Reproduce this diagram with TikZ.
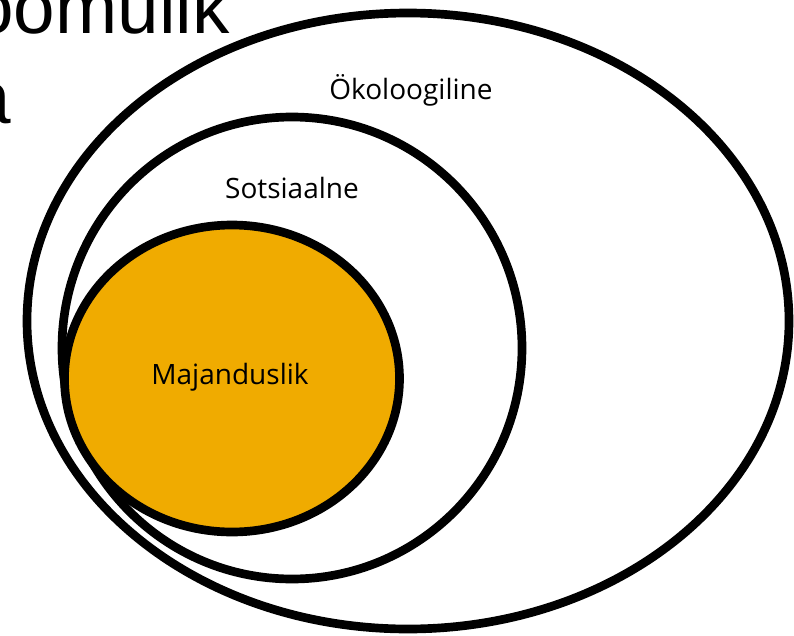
\documentclass[tikz,border=0pt]{standalone}
\usepackage{fontspec}
\setmainfont{Open Sans}
\newfontfamily\headfont{Liberation Sans}
\usepackage{tikz}
\usetikzlibrary{positioning}
\definecolor{majorange}{HTML}{F0AB00}

\begin{document}
\begin{tikzpicture}[x=0.75pt,y=-0.75pt,
		ring/.style={line width=6.5pt,draw=black},
		lbl/.style={inner sep=0pt,anchor=base,font=\fontsize{21}{24}\selectfont},
		head/.style={inner sep=0pt,anchor=base east,font=\headfont\fontsize{56}{62}\selectfont}]
		\useasboundingbox (0,0) rectangle (794,636);

		% spheres
		\draw[ring] (408,321) ellipse [x radius=381, y radius=308];
		\draw[ring] (292,348) ellipse [x radius=230, y radius=231];
		\draw[ring,fill=majorange] (232,378.5) ellipse [x radius=167.5, y radius=153.5];

		% labels
		\node[lbl] (eko) at (411,99) {Ökoloogiline};
		\node[lbl] (sots) at (292,198) {Sotsiaalne};
		\node[lbl] (maj) at (230,384) {Majanduslik};

		% clipped title
		\node[head] (title1) at (230,33) {oomulik};
		\node[head] (title2) at (11,123) {a};
	\end{tikzpicture}
\end{document}
